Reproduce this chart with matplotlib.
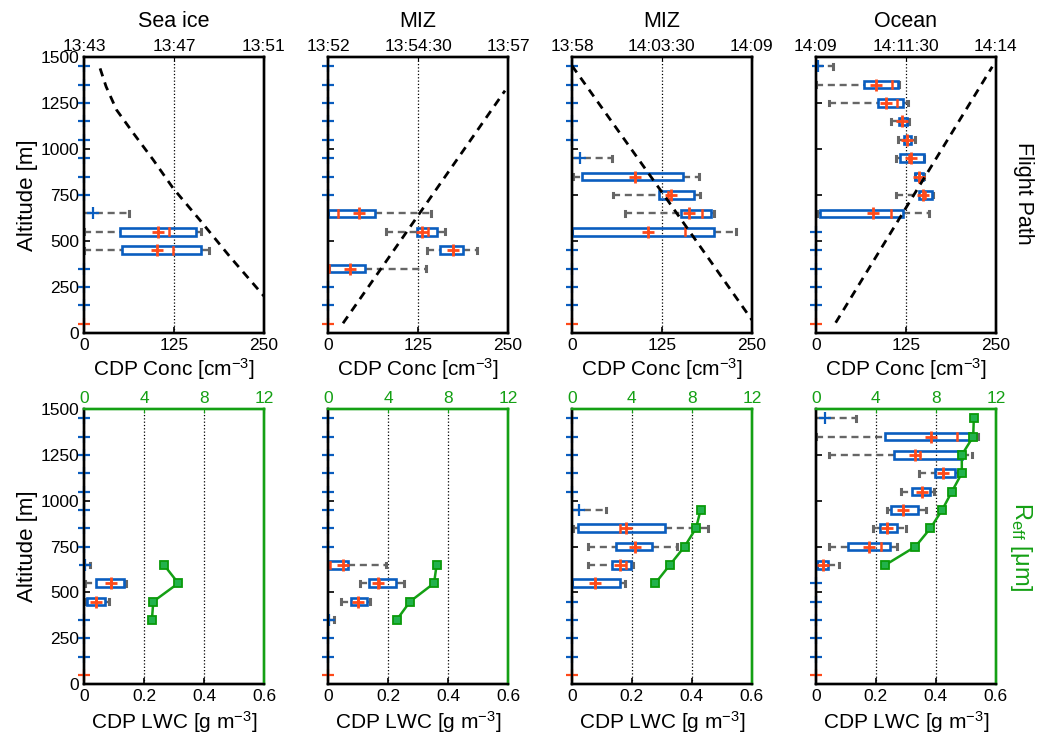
import numpy as np
import matplotlib.pyplot as plt
from matplotlib.patches import Rectangle

plt.rcParams['font.family'] = ['Liberation Sans', 'DejaVu Sans']
plt.rcParams['mathtext.fontset'] = 'custom'
plt.rcParams['mathtext.rm'] = 'Liberation Sans'
plt.rcParams['mathtext.it'] = 'Liberation Sans:italic'

alt_bins = np.arange(50, 1500, 100)

titles = ['Sea ice', 'MIZ', 'MIZ', 'Ocean']
time_labels = [['13:43', '13:47', '13:51'],
               ['13:52', '13:54:30', '13:57'],
               ['13:58', '14:03:30', '14:09'],
               ['14:09', '14:11:30', '14:14']]
leg_seconds = [480, 300, 660, 300]

# flight path, seconds after the leg start vs altitude
path_t = [[43, 59, 87, 132, 185, 238, 309, 389, 481],
          [25, 295], [0, 330, 660], [33, 294]]
path_alt = [[1438, 1339, 1212, 1085, 940, 786, 614, 415, 198],
            [53, 1317], [1453, 765, 71], [56, 1447]]

# box rows: altitude, q25, q75, median, mean, min, max
conc_box = [
    [(550, 50, 156, 118, 103, 0, 163),
     (450, 53, 162, 123, 101, 0, 173)],
    [(650, 0, 65, 14, 43, 0, 143),
     (550, 123, 151, 139, 131, 81, 163),
     (450, 156, 188, 173, 173, 138, 207),
     (350, 1, 52, 2, 30, 1, 136)],
    [(850, 14, 154, 88, 87, 2, 176),
     (750, 121, 169, 133, 137, 57, 178),
     (650, 151, 193, 181, 163, 74, 198),
     (550, 0, 198, 157, 106, 0, 228)],
    [(1350, 67, 114, 106, 84, 0, 116),
     (1250, 86, 121, 113, 97, 18, 128),
     (1150, 115, 126, 120, 120, 104, 130),
     (1050, 122, 132, 126, 126, 114, 137),
     (950, 117, 150, 130, 132, 111, 150),
     (850, 138, 149, 143, 143, 137, 150),
     (750, 143, 161, 151, 149, 111, 163),
     (650, 6, 121, 105, 80, 1, 157)],
]
# single-value bins: altitude, value, min, max
conc_spot = [
    [(650, 12, 0, 62)],
    [],
    [(950, 11, 0, 55)],
    [(1450, 3, 0, 24)],
]

lwc_box = [
    [(550, 0.040, 0.133, 0.090, 0.090, 0.005, 0.140),
     (450, 0.009, 0.070, 0.040, 0.040, 0.003, 0.083)],
    [(650, 0.0, 0.068, 0.007, 0.049, 0.0, 0.192),
     (550, 0.138, 0.227, 0.171, 0.168, 0.107, 0.254),
     (450, 0.077, 0.131, 0.101, 0.101, 0.042, 0.140)],
    [(850, 0.019, 0.310, 0.160, 0.180, 0.002, 0.454),
     (750, 0.146, 0.268, 0.210, 0.210, 0.054, 0.351),
     (650, 0.134, 0.197, 0.180, 0.160, 0.054, 0.204),
     (550, 0.001, 0.160, 0.076, 0.076, 0.001, 0.178)],
    [(1350, 0.232, 0.513, 0.469, 0.383, 0.002, 0.541),
     (1250, 0.261, 0.486, 0.347, 0.332, 0.043, 0.519),
     (1150, 0.397, 0.463, 0.424, 0.424, 0.343, 0.474),
     (1050, 0.322, 0.380, 0.354, 0.354, 0.283, 0.394),
     (950, 0.249, 0.339, 0.291, 0.291, 0.236, 0.367),
     (850, 0.213, 0.269, 0.236, 0.236, 0.191, 0.302),
     (750, 0.108, 0.247, 0.217, 0.177, 0.043, 0.269),
     (650, 0.003, 0.041, 0.024, 0.024, 0.003, 0.077)],
]
lwc_spot = [
    [(650, 0.003, 0.0, 0.020)],
    [(350, 0.004, 0.0, 0.021)],
    [(950, 0.023, 0.0, 0.113)],
    [(1450, 0.030, 0.0, 0.133)],
]

# effective radius [um]
reff_alt = [[650, 550, 450, 350],
            [650, 550, 450, 350],
            [950, 850, 750, 650, 550],
            [1450, 1350, 1250, 1150, 1050, 950, 850, 750, 650]]
reff_val = [[5.33, 6.29, 4.62, 4.53],
            [7.24, 7.07, 5.47, 4.58],
            [8.58, 8.27, 7.51, 6.53, 5.56],
            [10.53, 10.49, 9.73, 9.73, 9.07, 8.42, 7.64, 6.64, 4.64]]

blue = '#0a5dbf'
red = '#ff4a1a'
grey = '#666666'
green = '#14a014'
lefts = [0.0809, 0.316, 0.551, 0.786]
width = 0.1734


def draw_profile(ax, boxes, spots):
    used = set()
    for alt, q25, q75, med, mean, lo, hi in boxes:
        used.add(alt)
        if lo < q25:
            ax.plot([lo, q25], [alt, alt], color=grey, ls=(0, (3, 2)), lw=1.7)
        if hi > q75:
            ax.plot([q75, hi], [alt, alt], color=grey, ls=(0, (3, 2)), lw=1.7)
        for w in (lo, hi):
            ax.plot([w, w], [alt - 13, alt + 13], color=grey, lw=2.2)
        ax.add_patch(Rectangle((q25, alt - 21), q75 - q25, 42, fill=False,
                               ec=blue, lw=1.9, zorder=3))
        ax.plot([med, med], [alt - 18, alt + 18], color=red, lw=1.8, zorder=4)
        ax.plot(mean, alt, '+', color=red, ms=9, mew=2, zorder=5)
    for alt, x, lo, hi in spots:
        used.add(alt)
        ax.plot([lo, hi], [alt, alt], color=grey, ls=(0, (3, 2)), lw=1.7)
        ax.plot([hi, hi], [alt - 13, alt + 13], color=grey, lw=2.2)
        ax.plot(x, alt, '+', color=blue, ms=9, mew=1.6, zorder=5, clip_on=False)
    for alt in alt_bins:
        if alt in used:
            continue
        c = red if alt == 50 else blue
        ax.plot(0, alt, '+', color=c, ms=9, mew=1.6, zorder=5, clip_on=False)


def style_axes(ax, col):
    ax.set_ylim(0, 1500)
    ax.set_yticks(np.arange(0, 1501, 250))
    ax.tick_params(direction='in', length=4, labelsize=12.5, width=1.2)
    if col == 0:
        ax.set_ylabel('Altitude [m]', fontsize=16, labelpad=2)
    else:
        ax.set_yticklabels([])
    for s in ax.spines.values():
        s.set_linewidth(1.7)


fig = plt.figure(figsize=(10.38, 7.41), dpi=100)

# concentration row
for i in range(4):
    ax = fig.add_axes([lefts[i], 0.5506, width, 0.3725])
    ax.axvline(125, color='k', ls=':', lw=0.9, zorder=1)
    draw_profile(ax, conc_box[i], conc_spot[i])
    ax.set_xlim(0, 250)
    ax.set_xticks([0, 125, 250])
    style_axes(ax, i)
    ax.set_xlabel('CDP Conc [cm$^{-3}$]', fontsize=15, labelpad=2)

    tw = ax.twiny()
    tw.set_xlim(0, leg_seconds[i])
    tw.set_xticks([0, leg_seconds[i] / 2, leg_seconds[i]])
    tw.set_xticklabels(time_labels[i])
    tw.tick_params(direction='in', length=3, labelsize=12.5, pad=2)
    tw.plot(path_t[i], path_alt[i], color='k', ls=(0, (3, 2.3)), lw=2)
    tw.set_title(titles[i], fontsize=15.5, pad=9)
    for s in tw.spines.values():
        s.set_linewidth(1.7)

# liquid water content row
for i in range(4):
    ax = fig.add_axes([lefts[i], 0.0769, width, 0.371])
    ax.axvline(0.2, color='k', ls=':', lw=0.9, zorder=1)
    ax.axvline(0.4, color='k', ls=':', lw=0.9, zorder=1)
    draw_profile(ax, lwc_box[i], lwc_spot[i])
    ax.set_xlim(0, 0.6)
    ax.set_xticks([0, 0.2, 0.4, 0.6])
    ax.set_xticklabels(['0', '0.2', '0.4', '0.6'])
    style_axes(ax, i)
    ax.set_xlabel('CDP LWC [g m$^{-3}$]', fontsize=15, labelpad=4)

    tw = ax.twiny()
    tw.set_xlim(0, 12)
    tw.set_xticks([0, 4, 8, 12])
    tw.tick_params(direction='in', length=3, labelsize=12.5, pad=2,
                   colors=green)
    tw.plot(reff_val[i], reff_alt[i], color=green, lw=1.8, marker='s',
            ms=6, mfc='#22b24c', mec='#0a9a0a', mew=1.3)
    for a in (ax, tw):
        for s in a.spines.values():
            s.set_linewidth(1.7)
        a.spines['top'].set_color(green)
        a.spines['right'].set_color(green)

fig.text(0.986, 0.739, 'Flight Path', rotation=270, ha='center', va='center',
         fontsize=15.5)
fig.text(0.984, 0.262, r'R$_{\rm eff}$ [μm]', rotation=270, ha='center',
         va='center', fontsize=17, color=green)

fig.savefig('out.png', dpi=100)
